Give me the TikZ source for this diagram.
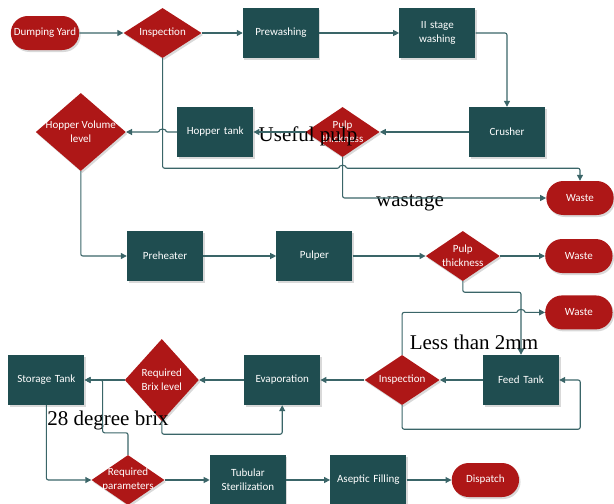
\documentclass[tikz,border=0pt]{standalone}
\usepackage{fontspec}
\usepackage{tikz}
\usetikzlibrary{arrows.meta, positioning, shapes.geometric, shapes.misc, shadows, calc}
\newfontfamily\boxfont{Carlito}
\newfontfamily\notefont{Liberation Serif}
\definecolor{tankteal}{HTML}{1F4D50}
\definecolor{stopred}{HTML}{AE1717}
\definecolor{linkteal}{HTML}{3A6568}

\begin{document}
\begin{tikzpicture}[
    x=1pt, y=-1pt,
    every node/.style={font=\boxfont\fontsize{11}{14}\selectfont, text=white},
    shade/.style={drop shadow={shadow xshift=1.5pt, shadow yshift=-2pt, opacity=0.3}},
    process/.style={rectangle, fill=tankteal, shade, text width=72pt, align=center, minimum width=76pt, minimum height=50pt, inner sep=1pt},
    decision/.style={diamond, fill=stopred, shade, align=center, minimum width=76pt, minimum height=50pt, aspect=1.5, inner sep=-3pt},
    terminal/.style={rounded rectangle, fill=stopred, shade, align=center, minimum width=75pt, minimum height=34pt},
    note/.style={font=\notefont\fontsize{21}{24}\selectfont, text=black, anchor=base, inner sep=0pt},
    arrow/.style={-{Triangle[length=6pt, width=6pt]}, draw=linkteal, line width=1.1pt, rounded corners=2pt}
]
\useasboundingbox (0,0) rectangle (614,504);

% Top row - washing
\node[terminal] (yard) at (45,33) {Dumping Yard};
\node[decision, right=44pt of yard, minimum width=78pt] (insp1) {Inspection};
\node[process, right=41pt of insp1] (prewash) {Prewashing};
\node[process, right=80pt of prewash] (wash2) {II stage\\washing};

% Second row - crushing
\node[process] (crusher) at (507,132) {Crusher};
\node[decision, left=89pt of crusher, minimum width=74pt] (pulp1) {Pulp\\thickness};
\node[process, left=52pt of pulp1] (hopper) {Hopper tank};
\node[decision, left=51pt of hopper, minimum width=90pt, minimum height=78pt, aspect=1.15] (hvl) {Hopper Volume\\level};
\node[terminal, minimum width=74pt] (waste1) at (580,198) {Waste};

% Third row - pulping
\node[process] (preheat) at (165,256) {Preheater};
\node[process, right=73pt of preheat] (pulper) {Pulper};
\node[decision, right=73pt of pulper, minimum width=74pt] (pulp2) {Pulp\\thickness};
\node[terminal, right=45pt of pulp2, minimum width=74pt] (waste2) {Waste};
\node[terminal, below=22pt of waste2, minimum width=74pt] (waste3) {Waste};

% Fourth row - concentration
\node[process] (feed) at (521,380) {Feed Tank};
\node[decision, left=43pt of feed, minimum width=75pt] (insp2) {Inspection};
\node[process, left=44pt of insp2] (evap) {Evaporation};
\node[decision, left=45pt of evap, minimum width=74pt, minimum height=82pt, aspect=0.9] (brix) {Required\\Brix level};
\node[process, left=40pt of brix] (store) {Storage Tank};

% Bottom row - packing
\node[decision, minimum width=73pt] (params) at (128,480) {Required\\parameters};
\node[process, right=45pt of params] (tubular) {Tubular\\Sterilization};
\node[process, right=44pt of tubular] (aseptic) {Aseptic Filling};
\node[terminal, right=45pt of aseptic, minimum width=74pt] (dispatch) {Dispatch};

% Notes
\node[note] (useful) at (308,141) {Useful pulp};
\node[note] (wastage) at (410,206) {wastage};
\node[note] (lessmm) at (474,349) {Less than 2mm};
\node[note] (degbrix) at (108,425) {28 degree brix};

% Line jumps
\coordinate (jump1) at (insp1.south |- hopper.west);
\coordinate (jump2) at ([yshift=-11pt]pulp1.south);
\coordinate (jump3) at (feed.north |- waste3.west);

% Arrows
\draw[arrow] (yard) -- (insp1);
\draw[arrow] (insp1) -- (prewash);
\draw[arrow] (prewash) -- (wash2);
\draw[arrow] (wash2.east) -| (crusher.north);
\draw[arrow] (crusher) -- (pulp1);
\draw[arrow] (pulp1) -- (hopper);
\draw[arrow] (hopper.west) -- ([xshift=3pt]jump1) arc[start angle=0, end angle=180, radius=3pt] -- (hvl.east);
\draw[arrow] (insp1.south) |- ([xshift=-3pt]jump2) arc[start angle=180, end angle=0, radius=3pt] -| (waste1.north);
\draw[arrow] (pulp1.south) |- (waste1.west);
\draw[arrow] (hvl.south) |- (preheat.west);
\draw[arrow] (preheat) -- (pulper);
\draw[arrow] (pulper) -- (pulp2);
\draw[arrow] (pulp2) -- (waste2);
\draw[arrow] (pulp2.south) -- ++(0,-11pt) -| (feed.north);
\draw[arrow] (insp2.north) |- ([xshift=-3pt]jump3) arc[start angle=180, end angle=0, radius=3pt] -- (waste3.west);
\draw[arrow] (feed) -- (insp2);
\draw[arrow] (insp2.south) -- ++(0,-24pt) -| ([xshift=21pt]feed.east) -- (feed.east);
\draw[arrow] (insp2) -- (evap);
\draw[arrow] (evap) -- (brix);
\draw[arrow] (brix) -- (store);
\draw[arrow] (brix.south) -- ++(0,-13pt) -| (evap.south);
\draw[arrow] (params.north) -- ++(0,22pt) -| ([xshift=18pt]store.east) -- (store.east);
\draw[arrow] (store.south) |- (params.west);
\draw[arrow] (params) -- (tubular);
\draw[arrow] (tubular) -- (aseptic);
\draw[arrow] (aseptic) -- (dispatch);

\end{tikzpicture}
\end{document}
